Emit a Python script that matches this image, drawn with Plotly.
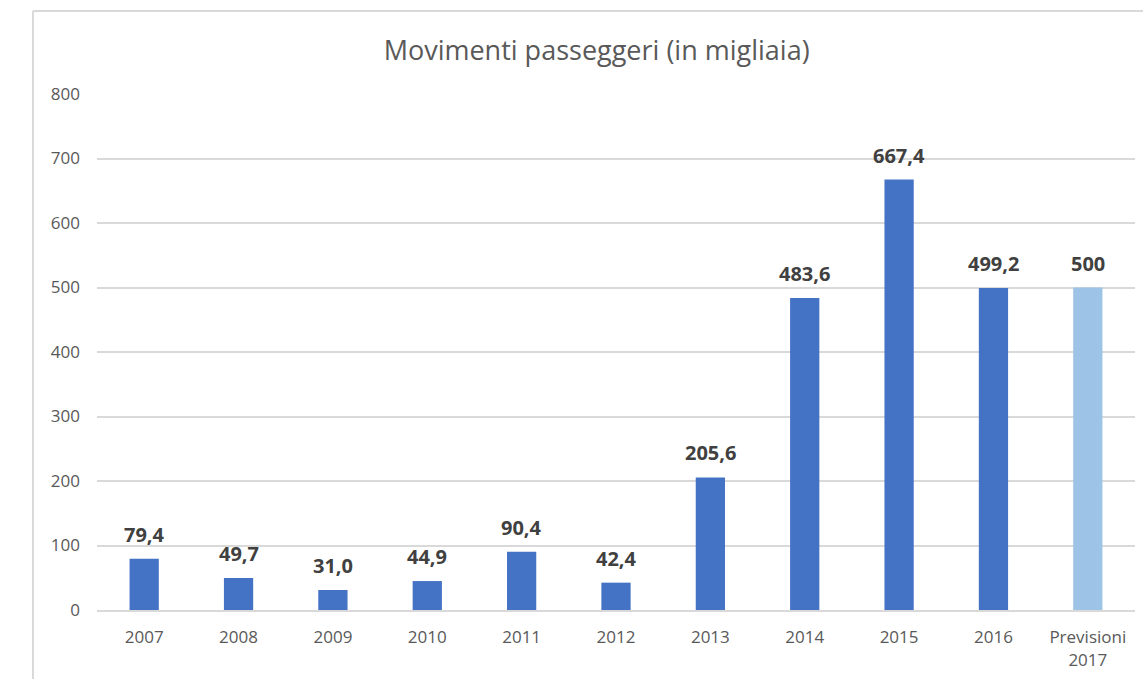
import plotly.graph_objects as go

# Passenger movements (thousands) per year, plus the 2017 forecast
categories = ["2007", "2008", "2009", "2010", "2011", "2012", "2013", "2014",
              "2015", "2016", "Previsioni<br>2017"]
values = [79.4, 49.7, 31.0, 44.9, 90.4, 42.4, 205.6, 483.6, 667.4, 499.2, 500]
is_forecast = [False] * 10 + [True]
y_ticks = [0, 100, 200, 300, 400, 500, 600, 700, 800]

ACTUAL_COLOR = "#4472C4"
FORECAST_COLOR = "#9DC3E6"
FONT = "Open Sans"


def fmt(v, forecast):
    # Italian decimal comma; the forecast is shown as a whole number
    if forecast:
        return f"{v:.0f}"
    return f"{v:.1f}".replace(".", ",")


labels = [fmt(v, f) for v, f in zip(values, is_forecast)]
colors = [FORECAST_COLOR if f else ACTUAL_COLOR for f in is_forecast]

fig = go.Figure(
    go.Bar(
        x=categories,
        y=values,
        marker=dict(color=colors, line=dict(width=0)),
        width=0.31,
        hoverinfo="x+y",
    )
)

# Value labels above each bar (category axis positions are indices)
for i, (v, t) in enumerate(zip(values, labels)):
    fig.add_annotation(
        x=i, y=v, text=f"<b>{t}</b>", showarrow=False,
        yanchor="bottom", yshift=9,
        font=dict(family=FONT, size=20, color="#404040"),
    )

# Chart frame (left and top edges)
fig.add_shape(type="line", xref="paper", yref="paper",
              x0=-0.0617, x1=-0.0617, y0=-0.14, y1=1.1609,
              line=dict(color="#D9D9D9", width=2))
fig.add_shape(type="line", xref="paper", yref="paper",
              x0=-0.0617, x1=1.01, y0=1.1609, y1=1.1609,
              line=dict(color="#D9D9D9", width=2))

fig.update_layout(
    width=1143,
    height=679,
    margin=dict(l=97, r=8, t=94, b=69),
    paper_bgcolor="white",
    plot_bgcolor="white",
    showlegend=False,
    title=dict(
        text="Movimenti passeggeri (in migliaia)",
        x=0.522, xanchor="center", y=0.926, yanchor="middle",
        font=dict(family=FONT, size=27, color="#595959"),
    ),
    xaxis=dict(
        type="category",
        categoryorder="array",
        categoryarray=categories,
        range=[-0.5, len(categories) - 0.5],
        tickfont=dict(family=FONT, size=17, color="#595959"),
        showgrid=False,
        showline=True,
        linecolor="#D9D9D9",
        linewidth=2,
        ticks="",
        ticklabelstandoff=11,
    ),
    yaxis=dict(
        range=[0, 800],
        tickvals=y_ticks,
        tickfont=dict(family=FONT, size=17, color="#595959"),
        showgrid=True,
        gridcolor="#D9D9D9",
        gridwidth=2,
        zeroline=False,
        ticks="",
        ticklabelstandoff=16,
    ),
)

fig.write_html("out.html")
